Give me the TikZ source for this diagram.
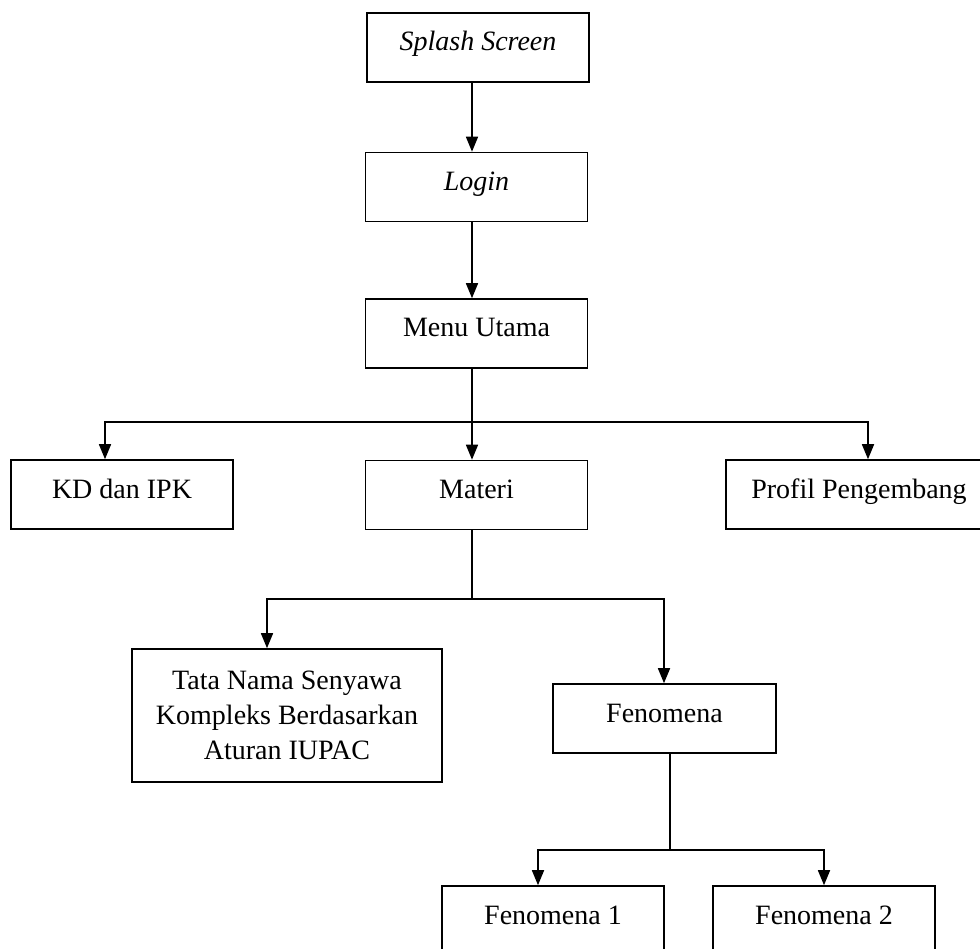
\documentclass[tikz,border=0pt]{standalone}
\usepackage{fontspec}
\setmainfont{Liberation Serif}
\usetikzlibrary{arrows.meta}
\tikzset{
  menubox/.style={draw, line width=1.6pt, minimum width=222pt, minimum height=69pt,
    inner sep=0pt, text height=20pt, text depth=13pt},
}
\begin{document}
\begin{tikzpicture}[x=1pt, y=-1pt, line width=1.6pt, font=\fontsize{28}{35}\selectfont, >={Triangle[length=15pt,width=12pt]}]
    \useasboundingbox (0,0) rectangle (980,949);
    \clip (0,0) rectangle (980,949);
    \node[menubox] (splash) at (478,47.5) {\textit{Splash Screen}};
    \node[menubox] (login) at (476.5,187) {\textit{Login}};
    \node[menubox] (menu) at (476.5,333.5) {Menu Utama};
    \node[menubox] (kd) at (122,494.5) {KD dan IPK};
    \node[menubox] (materi) at (476.5,495) {Materi};
    \node[menubox, minimum width=266pt] (profil) at (859,494.5) {Profil Pengembang};
    \node[draw, line width=1.6pt, minimum width=310pt, minimum height=133pt, align=center] (tata) at (287,715.5) %
        {Tata Nama Senyawa\\Kompleks Berdasarkan\\Aturan IUPAC};
    \node[menubox, minimum width=223pt] (fenomena) at (664.5,718.5) {Fenomena};
    \node[menubox] (fen1) at (553,920.5) {Fenomena 1};
    \node[menubox] (fen2) at (824,920.5) {Fenomena 2};
    % spine and split points
    \coordinate (spine) at (472,0);
    \coordinate (menusplit) at (472,422);
    \coordinate (materisplit) at (472,599);
    \coordinate (fensplit) at (670,850);
    \draw[->] (splash.south -| spine) -- (login.north -| spine);
    \draw[->] (login.south -| spine) -- (menu.north -| spine);
    \draw (menu.south -| spine) -- (menusplit);
    \draw[->] (menusplit) -- (materi.north -| spine);
    \foreach \t/\x in {kd/105,profil/868}
        \draw[->] (menusplit) -| (\t.north -| \x,0);
    \draw (materi.south -| spine) -- (materisplit);
    \foreach \t/\x in {tata/267,fenomena/664}
        \draw[->] (materisplit) -| (\t.north -| \x,0);
    \draw (fenomena.south -| fensplit) -- (fensplit);
    \foreach \t/\x in {fen1/538,fen2/824}
        \draw[->] (fensplit) -| (\t.north -| \x,0);
\end{tikzpicture}
\end{document}
